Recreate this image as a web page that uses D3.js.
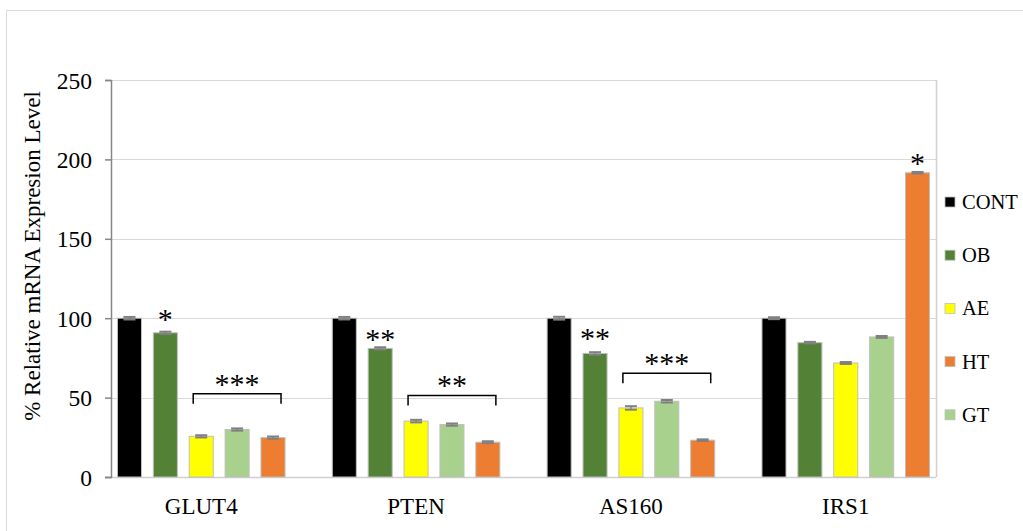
<!DOCTYPE html>
<html>
<head>
<meta charset="utf-8">
<script src="https://cdn.jsdelivr.net/npm/d3@7"></script>
<style>
  html, body { margin: 0; padding: 0; background: #fff; }
  svg { display: block; font-family: "Liberation Serif", "Times New Roman", serif; }
</style>
</head>
<body>
<svg id="chart" width="1023" height="531"></svg>
<script>
// Genes on the x axis
const genes = ["GLUT4", "PTEN", "AS160", "IRS1"];
// Treatment groups (legend order)
const groups = ["CONT", "OB", "AE", "HT", "GT"];
// Bar order inside each gene cluster
const barOrder = ["CONT", "OB", "AE", "GT", "HT"];
const groupColors = ["#000000", "#538135", "#FFFF00", "#ED7D31", "#A9D18E"];

// % relative mRNA expression per group, in gene order
const CONT = [100, 100, 100, 100];
const OB   = [90.8, 81.0, 77.8, 84.6];
const AE   = [25.6, 35.2, 43.5, 71.8];
const HT   = [24.8, 21.9, 23.2, 191.6];
const GT   = [29.9, 33.0, 47.7, 88.2];
// standard errors
const CONT_se = [0.8, 0.8, 0.9, 0.6];
const OB_se   = [0.7, 0.7, 0.8, 0.5];
const AE_se   = [0.7, 0.8, 1.1, 0.6];
const HT_se   = [0.7, 0.6, 0.5, 0.5];
const GT_se   = [0.7, 0.7, 0.8, 0.6];

const yTicks = [0, 50, 100, 150, 200, 250];

// Significance marks over single bars: gene, group, level of the mark
const starGene  = ["GLUT4", "PTEN", "AS160", "IRS1"];
const starGroup = ["OB", "OB", "OB", "HT"];
const starText  = ["*", "**", "**", "*"];
const starLevel = [103.3, 90.7, 91.0, 201.5];

// Brackets spanning AE..HT: gene, bracket level, label
const brGene  = ["GLUT4", "PTEN", "AS160"];
const brLevel = [52.4, 51.4, 65.3];
const brText  = ["***", "**", "***"];

const values = { CONT, OB, AE, HT, GT };
const errors = { CONT: CONT_se, OB: OB_se, AE: AE_se, HT: HT_se, GT: GT_se };

const svg = d3.select("#chart");

// outer chart frame
svg.append("rect")
  .attr("x", 6.5).attr("y", 10.5)
  .attr("width", 1040).attr("height", 560)
  .attr("fill", "none").attr("stroke", "#d9d9d9");

const plot = { left: 111, right: 936, top: 80, bottom: 477 };

const y = d3.scaleLinear().domain([0, 250]).range([plot.bottom, plot.top]);

const x0 = d3.scaleBand().domain(genes)
  .range([plot.left, plot.right])
  .paddingInner(0.22).paddingOuter(0.03);

const x1 = d3.scaleBand().domain(barOrder)
  .range([0, x0.bandwidth()])
  .paddingInner(0.33);

const color = d3.scaleOrdinal().domain(groups).range(groupColors);

// horizontal gridlines
svg.append("g")
  .selectAll("line")
  .data(yTicks.filter(t => t > 0))
  .join("line")
  .attr("x1", plot.left).attr("x2", plot.right)
  .attr("y1", d => Math.round(y(d)) + 0.5).attr("y2", d => Math.round(y(d)) + 0.5)
  .attr("stroke", "#d9d9d9").attr("stroke-width", 1.2);

// plot area right edge
svg.append("line")
  .attr("x1", plot.right + 0.5).attr("x2", plot.right + 0.5)
  .attr("y1", plot.top).attr("y2", plot.bottom)
  .attr("stroke", "#d0d0d0").attr("stroke-width", 1.5);

// x axis baseline
svg.append("line")
  .attr("x1", plot.left - 6).attr("x2", plot.right)
  .attr("y1", plot.bottom + 0.5).attr("y2", plot.bottom + 0.5)
  .attr("stroke", "#d0d0d0").attr("stroke-width", 1.5);

// y axis
const yAxis = svg.append("g")
  .attr("transform", `translate(${plot.left},0)`)
  .call(d3.axisLeft(y).tickValues(yTicks).tickSize(6).tickPadding(13));
yAxis.select(".domain").attr("stroke", "#868686").attr("stroke-width", 1.5);
yAxis.selectAll(".tick line").attr("stroke", "#868686").attr("stroke-width", 1.5);
yAxis.selectAll(".tick text")
  .attr("font-family", "Liberation Serif, serif")
  .attr("font-size", 23.5).attr("fill", "#000")
  .attr("dy", "0.34em");

// y axis title
svg.append("text")
  .attr("transform", `translate(40,256) rotate(-90)`)
  .attr("text-anchor", "middle")
  .attr("font-size", 23)
  .text("% Relative mRNA Expresion Level");

// bars
const clusters = svg.append("g")
  .selectAll("g")
  .data(genes)
  .join("g")
  .attr("transform", d => `translate(${x0(d)},0)`);

const barData = (gene, gi) => barOrder.map(g => ({
  gene, group: g, value: values[g][gi], se: errors[g][gi]
}));

clusters.each(function (gene, gi) {
  const g = d3.select(this);
  const data = barData(gene, gi);
  g.selectAll("rect")
    .data(data)
    .join("rect")
    .attr("x", d => x1(d.group))
    .attr("y", d => y(d.value))
    .attr("width", x1.bandwidth())
    .attr("height", d => y(0) - y(d.value))
    .attr("fill", d => color(d.group))
    .attr("stroke", "#bfbfbf").attr("stroke-width", 1);

  // error bars
  const eb = g.selectAll("g.err").data(data).join("g").attr("class", "err");
  const cx = d => x1(d.group) + x1.bandwidth() / 2;
  eb.append("line")
    .attr("x1", cx).attr("x2", cx)
    .attr("y1", d => y(d.value - d.se)).attr("y2", d => y(d.value + d.se))
    .attr("stroke", "#808080").attr("stroke-width", 1.5);
  eb.append("line")
    .attr("x1", d => cx(d) - 6).attr("x2", d => cx(d) + 6)
    .attr("y1", d => y(d.value + d.se)).attr("y2", d => y(d.value + d.se))
    .attr("stroke", "#808080").attr("stroke-width", 2);
  eb.append("line")
    .attr("x1", d => cx(d) - 6).attr("x2", d => cx(d) + 6)
    .attr("y1", d => y(d.value - d.se)).attr("y2", d => y(d.value - d.se))
    .attr("stroke", "#808080").attr("stroke-width", 2);
});

// x category labels
svg.append("g")
  .selectAll("text")
  .data(genes)
  .join("text")
  .attr("x", d => x0(d) + x0.bandwidth() / 2)
  .attr("y", 514)
  .attr("text-anchor", "middle")
  .attr("font-size", 23)
  .text(d => d);

// asterisks over single bars
const starSize = 30;
svg.append("g")
  .selectAll("text")
  .data(starGene.map((g, i) => ({ gene: g, group: starGroup[i], text: starText[i], level: starLevel[i] })))
  .join("text")
  .attr("x", d => x0(d.gene) + x1(d.group) + x1.bandwidth() / 2)
  .attr("y", d => y(d.level) + 16)
  .attr("text-anchor", "middle")
  .attr("font-size", starSize)
  .text(d => d.text);

// brackets over AE..HT
const br = svg.append("g")
  .selectAll("g")
  .data(brGene.map((g, i) => ({ gene: g, level: brLevel[i], text: brText[i] })))
  .join("g");

br.append("path")
  .attr("d", d => {
    const xa = x0(d.gene) + x1("AE") + 4;
    const xb = x0(d.gene) + x1("HT") + x1.bandwidth() - 4;
    const yy = y(d.level);
    return `M${xa},${yy + 10}V${yy}H${xb}V${yy + 10}`;
  })
  .attr("fill", "none").attr("stroke", "#000").attr("stroke-width", 1.5);

br.append("text")
  .attr("x", d => x0(d.gene) + (x1("AE") + x1("HT") + x1.bandwidth()) / 2)
  .attr("y", d => y(d.level) - 16 + 16)
  .attr("text-anchor", "middle")
  .attr("font-size", starSize)
  .text(d => d.text);

// legend
const legend = svg.append("g")
  .selectAll("g")
  .data(groups)
  .join("g")
  .attr("transform", (d, i) => `translate(945,${202 + i * 53.2})`);

legend.append("rect")
  .attr("x", 0).attr("y", -5)
  .attr("width", 10).attr("height", 10)
  .attr("fill", d => color(d))
  .attr("stroke", "#bfbfbf").attr("stroke-width", 0.8);

legend.append("text")
  .attr("x", 17).attr("y", 7)
  .attr("font-size", 20.5)
  .text(d => d);
</script>
</body>
</html>
